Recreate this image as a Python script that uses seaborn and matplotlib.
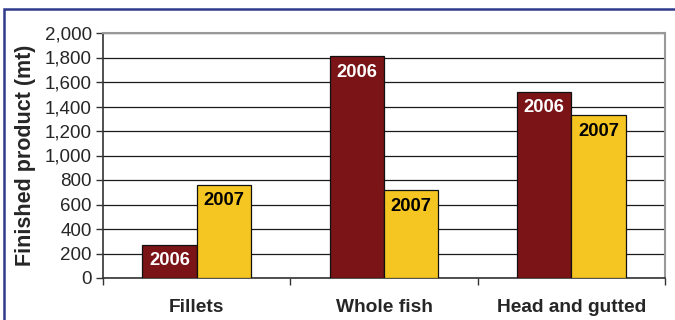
import matplotlib
matplotlib.use("Agg")
import matplotlib.pyplot as plt
from matplotlib.patches import Rectangle
import pandas as pd
import seaborn as sns

categories = ["Fillets", "Whole fish", "Head and gutted"]
years = ["2006", "2007"]
values_2006 = [270, 1810, 1520]
values_2007 = [760, 715, 1330]
y_ticks = list(range(0, 2001, 200))

df = pd.DataFrame({
    "product": categories * 2,
    "year": [years[0]] * 3 + [years[1]] * 3,
    "mt": values_2006 + values_2007,
})

sns.set_theme(style="white")
plt.rcParams["font.family"] = ["Liberation Sans", "DejaVu Sans"]

W, H = 675, 320
fig = plt.figure(figsize=(W / 100, H / 100), dpi=100)
ax = fig.add_axes([103 / W, 1 - 278 / H, (665 - 103) / W, (278 - 33) / H])

palette = {"2006": "#7a1416", "2007": "#f5c622"}
sns.barplot(data=df, x="product", y="mt", hue="year", order=categories,
            hue_order=years, palette=palette, width=0.58, gap=0,
            edgecolor="#111111", linewidth=0.9, saturation=1,
            legend=False, ax=ax, zorder=3)

ax.set_ylim(0, 2000)
ax.set_xlim(-0.5, 2.5)
ax.set_yticks(y_ticks)
ax.set_yticklabels([f"{v:,}" for v in y_ticks], fontsize=13.5)
ax.yaxis.grid(True, color="#1a1a1a", linewidth=0.9, zorder=0)
ax.set_axisbelow(True)

# category boundary ticks, labels centred on categories
ax.set_xticks([-0.5, 0.5, 1.5, 2.5])
ax.set_xticklabels([])
ax.set_xticks(range(len(categories)), minor=True)
ax.set_xticklabels(categories, minor=True, fontsize=13.8, fontweight="bold")
ax.tick_params(axis="x", which="minor", length=0, pad=15)
ax.tick_params(axis="x", which="major", length=5, width=1, color="#333333",
               direction="out", bottom=True)
ax.tick_params(axis="y", length=5, width=1, color="#333333", direction="out",
               left=True, pad=3)

ax.set_xlabel("")
ax.set_ylabel("Finished product (mt)", fontsize=15.5, fontweight="bold",
              labelpad=6)

for side in ["left", "bottom"]:
    ax.spines[side].set_color("#333333")
    ax.spines[side].set_linewidth(1.2)
for side in ["top", "right"]:
    ax.spines[side].set_color("#999999")
    ax.spines[side].set_linewidth(1.5)

# year labels inside the top of each bar
for container, year in zip(ax.containers, years):
    color = "white" if year == "2006" else "black"
    for bar in container:
        ax.annotate(year, (bar.get_x() + bar.get_width() / 2, bar.get_height()),
                    xytext=(0, -11.5), textcoords="offset points",
                    ha="center", va="center", fontsize=13.2,
                    fontweight="bold", color=color, zorder=5)

# outer frame of the chart area
fig.patches.append(Rectangle((3.5 / W, -0.2), 1.2, 1.2 - 8.5 / H,
                             transform=fig.transFigure, fill=False,
                             edgecolor="#2e3a8c", linewidth=1.8))

fig.savefig("out.png", dpi=100)
